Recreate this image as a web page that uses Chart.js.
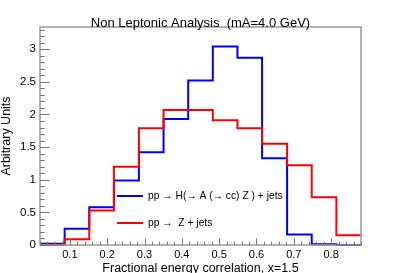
<!DOCTYPE html>
<html>
<head>
<meta charset="utf-8">
<script src="https://cdn.jsdelivr.net/npm/chart.js@4.4.1/dist/chart.umd.min.js"></script>
<style>
  body { margin: 0; background: #fff; }
  canvas { display: block; }
</style>
</head>
<body>
<canvas id="myChart" width="401" height="273"></canvas>
<script>
const ctx = document.getElementById("myChart");

// histogram bin edges (13 bins) and contents
const binEdges = [0.02, 0.086, 0.152, 0.218, 0.285, 0.351, 0.417, 0.483, 0.549, 0.615, 0.682, 0.748, 0.814, 0.88];
const signal = [0.02, 0.25, 0.58, 0.99, 1.42, 1.93, 2.52, 3.04, 2.87, 1.33, 0.16, 0.01, 0.0];
const background = [0.0, 0.09, 0.53, 1.2, 1.79, 2.07, 2.07, 1.91, 1.79, 1.55, 1.22, 0.73, 0.15];
const labels = ["pp \u2192 H(\u2192 A (\u2192 cc) Z ) + jets", "pp \u2192  Z + jets"];

const title = "Non Leptonic Analysis  (mA=4.0 GeV)";
const xTitle = "Fractional energy correlation, x=1.5";
const yTitle = "Arbitrary Units";

const FONT = "'Liberation Sans', Arial, sans-serif";

// one point per bin edge, last bin repeated at the right edge
function histPoints(vals) {
  return binEdges.map((e, i) => ({ x: e, y: vals[Math.min(i, vals.length - 1)] }));
}

const rootStyle = {
  id: "rootStyle",
  afterDraw(chart) {
    const c = chart.ctx;
    const a = chart.chartArea;
    const xs = chart.scales.x;
    const ys = chart.scales.y;
    c.save();

    // frame
    c.strokeStyle = "#999";
    c.lineWidth = 1.5;
    c.strokeRect(a.left, a.top, a.right - a.left, a.bottom - a.top);

    // inward ticks
    c.strokeStyle = "#777";
    c.lineWidth = 1;
    c.beginPath();
    for (let k = 0; k <= 50; k++) {
      const v = k * 0.02;
      if (v < xs.min - 1e-9 || v > xs.max + 1e-9) continue;
      const px = Math.round(xs.getPixelForValue(v)) + 0.5;
      const len = k % 5 === 0 ? 6.5 : 3.3;
      c.moveTo(px, a.bottom);
      c.lineTo(px, a.bottom - len);
    }
    for (let k = 0; k <= 40; k++) {
      const v = k * 0.1;
      if (v > ys.max + 1e-9) continue;
      const py = Math.round(ys.getPixelForValue(v)) + 0.5;
      const len = k % 5 === 0 ? 9.5 : 4.8;
      c.moveTo(a.left, py);
      c.lineTo(a.left + len, py);
    }
    c.stroke();

    // titles
    c.fillStyle = "#000";
    c.textAlign = "center";
    c.textBaseline = "alphabetic";
    c.font = "13px " + FONT;
    c.fillText(title, chart.width / 2, 26.5);

    c.font = "12.5px " + FONT;
    c.fillText(xTitle, (a.left + a.right) / 2, 271.5);

    c.save();
    c.translate(10, (a.top + a.bottom) / 2);
    c.rotate(-Math.PI / 2);
    c.fillText(yTitle, 0, 0);
    c.restore();

    // legend
    c.font = "10.3px " + FONT;
    c.textAlign = "left";
    c.textBaseline = "middle";
    const legendY = [196, 223];
    chart.data.datasets.forEach((ds, i) => {
      const y = legendY[i];
      c.strokeStyle = ds.borderColor;
      c.lineWidth = 2;
      c.beginPath();
      c.moveTo(117, y);
      c.lineTo(143, y);
      c.stroke();
      c.fillStyle = "#000";
      c.fillText(ds.label, 148, y + 0.5);
    });

    c.restore();
  }
};

const myChart = new Chart(ctx, {
  type: "line",
  data: {
    datasets: [
      {
        label: labels[0],
        data: histPoints(signal),
        borderColor: "#0000ff",
        borderWidth: 2,
        stepped: "before",
        pointRadius: 0,
        fill: false,
        clip: 3,
        order: 1,
      },
      {
        label: labels[1],
        data: histPoints(background),
        borderColor: "#ff0000",
        borderWidth: 2,
        stepped: "before",
        pointRadius: 0,
        fill: false,
        clip: 3,
        order: 0,
      },
    ],
  },
  plugins: [rootStyle],
  options: {
    responsive: false,
    animation: false,
    layout: { padding: { top: 27, right: 40, left: 0, bottom: 0 } },
    plugins: {
      legend: { display: false },
      tooltip: { enabled: false },
    },
    scales: {
      x: {
        type: "linear",
        min: 0.02,
        max: 0.88,
        afterFit: (s) => { s.height = 28; },
        grid: { display: false, drawTicks: false },
        border: { display: false },
        ticks: {
          stepSize: 0.1,
          includeBounds: false,
          maxRotation: 0,
          padding: 3,
          color: "#000",
          font: { family: FONT, size: 11 },
          callback: (v) => String(Math.round(v * 10) / 10),
        },
      },
      y: {
        min: 0,
        max: 3.34,
        afterFit: (s) => { s.width = 40; },
        grid: { display: false, drawTicks: false },
        border: { display: false },
        ticks: {
          stepSize: 0.5,
          includeBounds: false,
          padding: 4,
          color: "#000",
          font: { family: FONT, size: 11.5 },
          callback: (v) => String(Math.round(v * 10) / 10),
        },
      },
    },
  },
});
</script>
</body>
</html>
